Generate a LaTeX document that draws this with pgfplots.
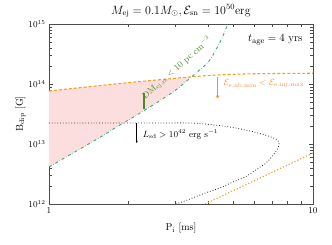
\documentclass[border=0pt]{standalone}
\usepackage{pgfplots}
\pgfplotsset{compat=1.18}
\usetikzlibrary{arrows.meta}
\definecolor{orline}{RGB}{242,160,30}
\definecolor{orarrow}{RGB}{245,140,60}
\definecolor{pinkfill}{RGB}{253,222,222}
\definecolor{dmline}{RGB}{55,170,125}
\definecolor{dmtext}{RGB}{75,140,40}
\begin{document}
\begin{tikzpicture}
\begin{axis}[
  scale only axis, width=264bp, height=180bp,
  xmode=log, ymode=log,
  xmin=1, xmax=10, ymin=1e12, ymax=1e15,
  xtick={1,10}, xticklabels={$1$,$10$},
  minor xtick={2,3,4,5,6,7,8,9},
  ytick={1e12,1e13,1e14,1e15},
  yticklabels={$10^{12}$,$10^{13}$,$10^{14}$,$10^{15}$},
  minor ytick={2e12,3e12,4e12,5e12,6e12,7e12,8e12,9e12,2e13,3e13,4e13,5e13,6e13,7e13,8e13,9e13,2e14,3e14,4e14,5e14,6e14,7e14,8e14,9e14},
  tick align=inside, ticklabel style={font=\small},
  axis line style={black!70}, tick style={black!70},
  xlabel={P$_{\rm i}$ [ms]}, ylabel={B$_{\rm dip}$ [G]},
  xlabel shift=3pt, ylabel shift=-4pt,
  title={$M_{\rm ej}=0.1M_\odot, \mathcal{E}_{\rm sn}=10^{50}{\rm erg}$},
  title style={yshift=-3pt, font=\large},
  clip=true,
]
% pink region
\addplot[draw=none, fill=pinkfill] coordinates {
 (1,7.64e13) (1.86,1.02e14) (3.45,1.30e14)
 (3.0,7.76e13) (2.5,4.57e13) (2.0,2.51e13) (1.8,1.91e13) (1.6,1.38e13) (1.4,9.77e12) (1.2,6.61e12) (1,4.14e12)
} -- cycle;
% orange dashed upper
\addplot[orline, dash pattern=on 3pt off 2pt, line width=1.1pt, smooth] coordinates {
 (1,7.64e13) (1.86,1.02e14) (3.42,1.31e14) (4.32,1.41e14) (6,1.48e14) (10,1.51e14)
};
% green dash-dot DM
\addplot[dmline, dash dot, line width=0.9pt, smooth] coordinates {
 (1.0,4.14e12) (1.2,6.61e12) (1.4,9.77e12) (1.6,1.38e13) (1.8,1.91e13) (2.0,2.51e13)
 (2.5,4.57e13) (3.0,7.76e13) (3.45,1.29e14) (4.0,2.3e14) (4.3,3.8e14) (4.55,6.2e14) (4.76,1e15)
};
% black dotted L_sd
\addplot[black!85, dotted, line width=0.8pt, smooth] coordinates {
 (1,2.24e13) (2.41,2.24e13) (3.42,2.24e13) (4.07,2.11e13) (4.85,1.92e13) (5.77,1.65e13)
 (6.58,1.41e13) (7.24,1.21e13) (7.43,1.04e13) (7.37,8.57e12) (7.12,6.81e12) (6.64,4.82e12)
 (6.14,3.83e12) (5.53,2.82e12) (4.98,2.33e12) (4.44,1.85e12) (3.90,1.52e12) (3.42,1.21e12) (3.03,1e12)
};
% orange dotted lower
\addplot[orline, dash pattern=on 1.2pt off 2pt, line width=1.1pt] coordinates {
 (3.90,1e12) (10,7.08e12)
};
% annotations
\fill[dmtext] ([xshift=-0.6pt]axis cs:2.29,3.8e13) rectangle ([xshift=0.6pt]axis cs:2.29,7.1e13);
\fill[orarrow] ([xshift=-0.85pt]axis cs:4.35,1.32e14) rectangle ([xshift=0.85pt]axis cs:4.35,6.4e13);
\fill[orarrow] ([xshift=-1.9pt]axis cs:4.35,6.4e13) -- ([xshift=1.9pt]axis cs:4.35,6.4e13) -- (axis cs:4.35,5.75e13) -- cycle;
\draw[draw=black, line width=0.6pt, -{Stealth[length=2.5pt]}] (axis cs:2.15,2.2e13) -- (axis cs:2.15,1.03e13);
\node[anchor=west, text=orarrow, font=\small] at (axis cs:4.45,1e14) {$\mathcal{E}_{\rm e,nb,min} < \mathcal{E}_{\rm e,inj,max}$};
\node[anchor=west, font=\small] at (axis cs:2.2,1.45e13) {$L_{\rm sd} > 10^{42}$ erg s$^{-1}$};
\node[text=dmtext, rotate=41, font=\small] at (axis cs:3.05,1.85e14) {DM$_{\rm ej,rs} < 10$ pc cm$^{-3}$};
\node[font=\fontsize{11}{13}\selectfont] at (axis cs:7.2,5.4e14) {$t_{\rm age}=4$ yrs};
\end{axis}
\path (current axis.south west) ++(-49bp,-41bp) coordinate (bl);
\path (current axis.north east) ++(19bp,24bp) coordinate (tr);
\path (bl) (tr);
\end{tikzpicture}
\end{document}
